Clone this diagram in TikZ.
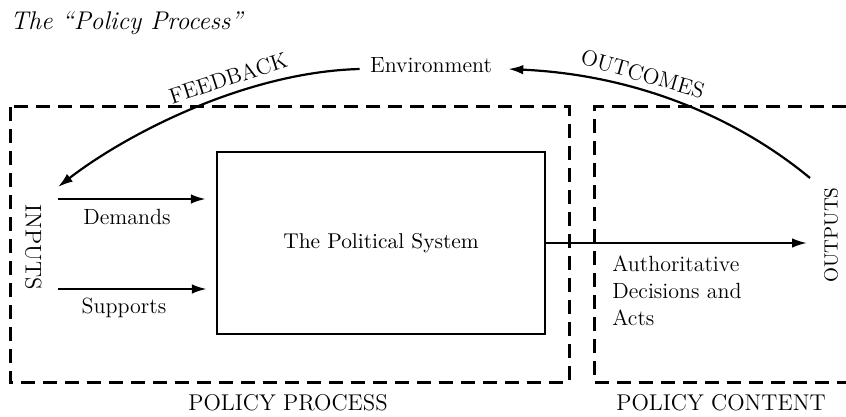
\documentclass[tikz,border=0pt]{standalone}
\usetikzlibrary{arrows.meta,calc}
\begin{document}
\begin{tikzpicture}[x=0.5pt,y=-0.5pt,
  dbox/.style={line width=1.5pt, dash pattern=on 7pt off 4pt},
  sysbox/.style={draw, line width=1.2pt, inner sep=0, minimum width=164pt, minimum height=91pt, font=\fontsize{10.7}{12}\selectfont},
  arr/.style={line width=1.1pt, -{Latex[length=7.5pt,width=4.8pt]}},
  lbl/.style={font=\fontsize{11}{13.5}\selectfont, inner sep=0},
  caps/.style={font=\fontsize{11.4}{13}\selectfont, inner sep=0},
  curvelbl/.style={font=\fontsize{11}{13}\selectfont, anchor=south, inner sep=3.5pt}]
\useasboundingbox (0,0) rectangle (846,417);
\node[anchor=base west, inner sep=0, font=\fontsize{12.8}{15}\selectfont\itshape] (title) at (10,30) {The ``Policy Process''};
\draw[dbox] (10,107) rectangle (569,382);
\draw[dbox] (846,107) -- (594,107) -- (594,382) -- (846,382);
\node[sysbox] (sys) at (381,243) {The Political System};
\node[lbl] (env) at (431,65) {Environment};
\node[caps, rotate=-90] (inp) at (33.5,247) {INPUTS};
\node[font=\fontsize{9.6}{11}\selectfont, inner sep=0, rotate=90] (outp) at (831,235) {OUTPUTS};
\node[lbl] (dem) at (127,217) {Demands};
\node[lbl] (sup) at (124,308) {Supports};
\node[lbl, anchor=north west, align=left] (auth) at (612,255) {Authoritative\\Decisions and\\Acts};
\node[caps] (pp) at (288,403) {POLICY PROCESS};
\node[caps] (pc) at (721,403) {POLICY CONTENT};
\coordinate (d0) at (58,199);
\coordinate (s0) at (58,289);
\coordinate (fbend) at (58,187);
\coordinate (ocs) at (810,178);
\coordinate (outtip) at (807,243);
\draw[arr, shorten >=5pt] (d0) -- (d0 -| sys.west);
\draw[arr, shorten >=4.5pt] (s0) -- (s0 -| sys.west);
\draw[arr] (sys.east) -- (outtip);
\draw[arr] ([xshift=-5pt,yshift=-2pt]env.west) .. controls (245,72) and (125,135) .. (fbend) node[curvelbl, pos=0.37, rotate=18] {FEEDBACK};
\draw[arr] (ocs) .. controls (740,120) and (640,75) .. ([xshift=8pt,yshift=-2pt]env.east) node[curvelbl, pos=0.64, rotate=-16] {OUTCOMES};
\end{tikzpicture}
\end{document}
